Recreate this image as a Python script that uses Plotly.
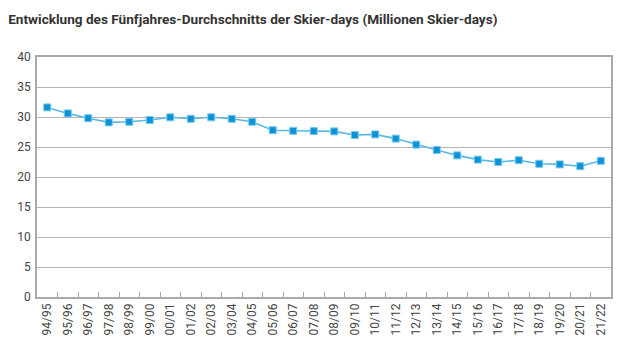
import plotly.graph_objects as go

seasons = ["94/95", "95/96", "96/97", "97/98", "98/99", "99/00", "00/01", "01/02",
           "02/03", "03/04", "04/05", "05/06", "06/07", "07/08", "08/09", "09/10",
           "10/11", "11/12", "12/13", "13/14", "14/15", "15/16", "16/17", "17/18",
           "18/19", "19/20", "20/21", "21/22"]
skier_days = [31.6, 30.6, 29.8, 29.1, 29.2, 29.5, 29.95, 29.7, 29.95, 29.7, 29.2,
              27.8, 27.7, 27.65, 27.6, 27.0, 27.1, 26.4, 25.4, 24.5, 23.6, 22.9,
              22.5, 22.8, 22.2, 22.1, 21.8, 22.7]
y_ticks = [0, 5, 10, 15, 20, 25, 30, 35, 40]

title = "Entwicklung des Fünfjahres-Durchschnitts der Skier-days (Millionen Skier-days)"

fig = go.Figure()
fig.add_trace(go.Scatter(
    x=seasons, y=skier_days, mode="lines+markers",
    line=dict(color="#5BB8E6", width=1.6),
    marker=dict(symbol="square", size=7, color="#0A93D5",
                line=dict(color="#7CC8EE", width=1)),
    showlegend=False,
))

font_family = "Liberation Sans Narrow, Roboto, Arial, sans-serif"

fig.update_layout(
    width=631, height=356,
    margin=dict(l=37, r=20, t=57, b=59, autoexpand=False),
    paper_bgcolor="white", plot_bgcolor="white",
    font=dict(family=font_family, size=12, color="#444444"),
    title=dict(text="<b>" + title + "</b>", x=0.013, xanchor="left",
               xref="container",
               y=0.945, yanchor="middle", automargin=False,
               font=dict(family=font_family, size=13.6, color="#333333")),
)
fig.update_xaxes(
    type="category", range=[-0.5, len(seasons) - 0.5],
    tickson="boundaries", ticks="inside", ticklen=5,
    tickcolor="#AAAAAA", tickangle=-90, showline=True, linecolor="#AAAAAA",
    linewidth=1.5, mirror=True, showgrid=False, automargin=False,
    tickfont=dict(size=12, color="#444444"),
)
fig.update_yaxes(
    range=[0, 40], tickvals=y_ticks, showgrid=True, gridcolor="#B5B5B5",
    gridwidth=1, showline=True, linecolor="#AAAAAA", linewidth=1.5, mirror=True,
    ticks="", zeroline=False, automargin=False, ticklabelstandoff=2,
    tickfont=dict(size=12, color="#444444"),
)

fig.write_html("out.html", config={"displayModeBar": False},
               post_script="document.body.style.margin='0';")
